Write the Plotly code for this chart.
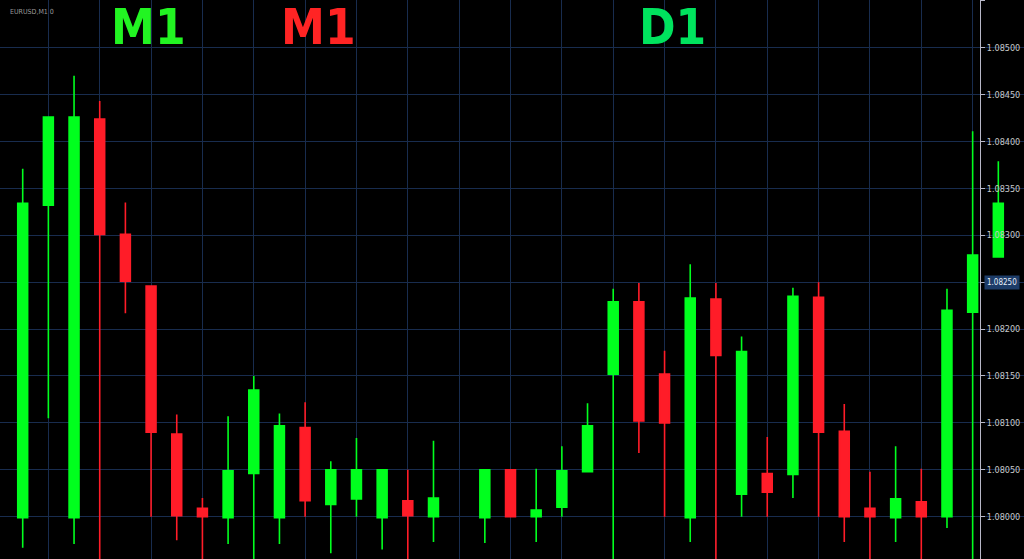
import plotly.graph_objects as go

# ---- data (prices) ----
bar_index = list(range(39))
opens = [1.07999, 1.08332, 1.07999, 1.08424, 1.08301, 1.08246, 1.08088, 1.08009, 1.07999, 1.08046,
         1.07999, 1.08095, 1.08013, 1.08019, 1.07999, 1.08017, 1.08000, None, 1.07999, 1.08050,
         1.08000, 1.08010, 1.08048, 1.08152, 1.08229, 1.08152, 1.07999, 1.08232, 1.08024, 1.08046,
         1.08045, 1.08234, 1.08091, 1.08009, 1.07999, 1.08016, 1.08000, 1.08218, 1.08277]
highs = [1.08371, 1.08426, 1.08470, 1.08443, 1.08335, 1.08246, 1.08109, 1.08020, 1.08107, 1.08150,
         1.08110, 1.08122, 1.08059, 1.08084, 1.08050, 1.08050, 1.08081, None, 1.08050, 1.08050,
         1.08051, 1.08075, 1.08121, 1.08243, 1.08249, 1.08177, 1.08269, 1.08249, 1.08192, 1.08085,
         1.08244, 1.08250, 1.08120, 1.08048, 1.08075, 1.08051, 1.08243, 1.08411, 1.08379]
lows = [1.07967, 1.08105, 1.07971, 1.07940, 1.08217, 1.08000, 1.07975, 1.07940, 1.07971, 1.07940,
        1.07971, 1.08000, 1.07961, 1.08000, 1.07965, 1.07940, 1.07973, None, 1.07972, 1.08000,
        1.07973, 1.08000, 1.08048, 1.07940, 1.08068, 1.08000, 1.07973, 1.07940, 1.08000, 1.08000,
        1.08020, 1.08000, 1.07973, 1.07940, 1.07973, 1.07940, 1.07988, 1.07940, 1.08277]
closes = [1.08334, 1.08426, 1.08426, 1.08301, 1.08251, 1.08090, 1.08001, 1.08000, 1.08049, 1.08135,
          1.08097, 1.08017, 1.08050, 1.08050, 1.08050, 1.08001, 1.08020, None, 1.08050, 1.08000,
          1.08007, 1.08049, 1.08097, 1.08229, 1.08102, 1.08100, 1.08233, 1.08172, 1.08176, 1.08026,
          1.08235, 1.08090, 1.08000, 1.08000, 1.08019, 1.08000, 1.08220, 1.08279, 1.08334]

price_ticks = [1.08000, 1.08050, 1.08100, 1.08150, 1.08200, 1.08250,
               1.08300, 1.08350, 1.08400, 1.08450, 1.08500, 1.08550]
price_labels = ["1.08000", "1.08050", "1.08100", "1.08150", "1.08200", "",
                "1.08300", "1.08350", "1.08400", "1.08450", "1.08500", "1.08550"]
current_price = 1.08250
current_label = "1.08250"

timeframe_labels = ["M1", "M1", "D1"]
timeframe_colors = ["#22f422", "#ff2424", "#00e35e"]
timeframe_x = [148, 318, 672]

GREEN = "#00ff1e"
RED = "#ff1c28"

fig = go.Figure()
fig.add_trace(go.Candlestick(
    x=bar_index, open=opens, high=highs, low=lows, close=closes,
    increasing=dict(line=dict(color=GREEN, width=1.6), fillcolor=GREEN),
    decreasing=dict(line=dict(color=RED, width=1.6), fillcolor=RED),
    whiskerwidth=0, showlegend=False, hoverinfo="skip",
))

W, H = 1024, 559
grid = "#182c4e"
Y_RANGE = [1.079549, 1.085508]
SEP = 980 / W

fig.update_layout(
    width=W, height=H,
    margin=dict(l=0, r=0, t=0, b=0, autoexpand=False),
    paper_bgcolor="#000000", plot_bgcolor="#000000",
    boxgap=0.45,
    showlegend=False,
    xaxis=dict(range=[-0.884, 39.0], showticklabels=False, rangeslider=dict(visible=False),
               showgrid=True, gridcolor=grid, gridwidth=1, tick0=1, dtick=2,
               zeroline=False, showline=False, fixedrange=True, domain=[0, 1]),
    yaxis=dict(range=Y_RANGE, showticklabels=False,
               tickmode="array", tickvals=price_ticks,
               showgrid=True, gridcolor=grid, gridwidth=1, zeroline=False,
               showline=False, ticks="", fixedrange=True),
    yaxis2=dict(range=Y_RANGE, overlaying="y", anchor="free", position=SEP, side="right",
                tickmode="array", tickvals=price_ticks, ticktext=price_labels,
                ticks="outside", ticklen=4, tickcolor="#b8b8c8", tickwidth=1,
                tickfont=dict(family="DejaVu Sans Condensed", size=9, color="#c8c8c8"),
                showgrid=False, zeroline=False, showline=True, linecolor="#b8b8c8",
                linewidth=1, fixedrange=True),
    font=dict(family="DejaVu Sans"),
)

# dummy invisible trace to activate the price-scale axis
fig.add_trace(go.Scatter(x=[None], y=[None], yaxis="y2", showlegend=False, hoverinfo="skip"))

# current price badge
fig.add_annotation(xref="paper", yref="y", x=1002 / W, y=current_price, text=current_label,
                   showarrow=False, xanchor="center", yanchor="middle",
                   bgcolor="#1d3c68", borderpad=2,
                   font=dict(family="DejaVu Sans Condensed", size=8, color="#e8eef8"))

# timeframe labels
for txt, col, px in zip(timeframe_labels, timeframe_colors, timeframe_x):
    fig.add_annotation(xref="paper", yref="paper", x=px / W, y=1 - 28 / H, text=f"<b>{txt}</b>",
                       showarrow=False, xanchor="center", yanchor="middle",
                       font=dict(family="DejaVu Sans Condensed", size=49, color=col))

# small chart info text
fig.add_annotation(xref="paper", yref="paper", x=8 / W, y=1 - 12 / H, text="EURUSD,M1 0",
                   showarrow=False, xanchor="left", yanchor="middle",
                   font=dict(family="DejaVu Sans Condensed", size=7, color="#9a9a9a"))

fig.write_html("out.html", config={"displayModeBar": False},
               post_script="document.body.style.margin='0';document.body.style.overflow='hidden';")
